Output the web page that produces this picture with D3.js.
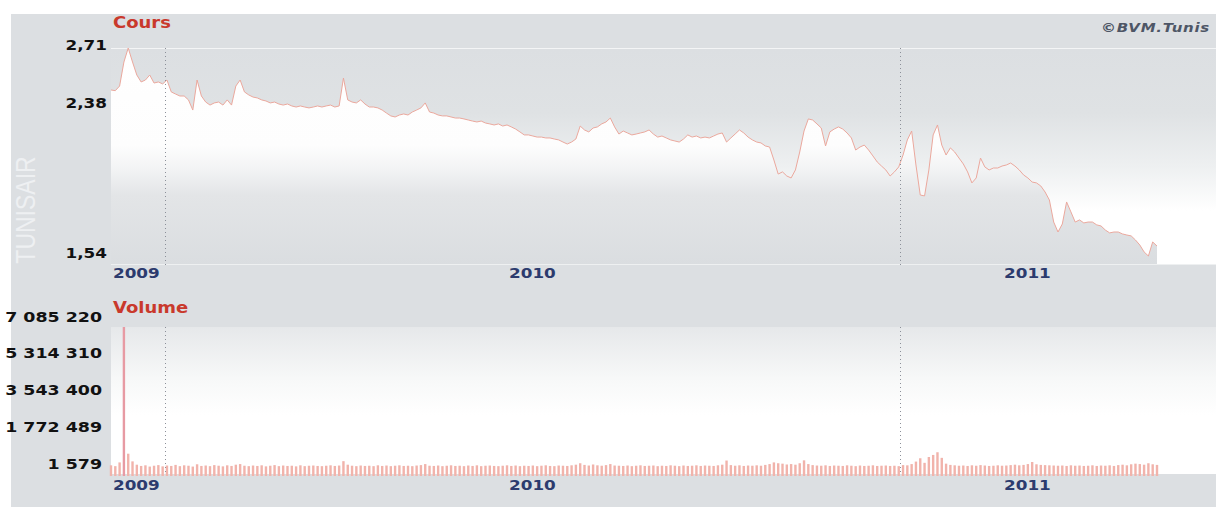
<!DOCTYPE html>
<html><head><meta charset="utf-8">
<script src="https://cdn.jsdelivr.net/npm/d3@7/dist/d3.min.js"></script>
<style>body{margin:0;background:#fff}svg{display:block}</style>
</head><body>
<svg id="c" width="1216" height="508"></svg>
<script>
// ---- DATA (weekly sessions) ----
const prices = [
2.474,2.470,2.496,2.631,2.710,2.631,2.558,2.519,2.530,2.558,
2.513,2.519,2.508,2.530,2.463,2.451,2.440,2.440,2.418,2.361,
2.530,2.440,2.406,2.389,2.401,2.406,2.389,2.418,2.389,2.496,
2.530,2.463,2.446,2.434,2.429,2.418,2.412,2.401,2.406,2.395,
2.389,2.395,2.384,2.378,2.384,2.378,2.373,2.378,2.384,2.378,
2.384,2.389,2.378,2.384,2.541,2.418,2.406,2.401,2.418,2.395,
2.378,2.378,2.373,2.361,2.344,2.328,2.322,2.333,2.339,2.333,
2.350,2.361,2.373,2.401,2.350,2.344,2.333,2.328,2.328,2.322,
2.316,2.316,2.311,2.305,2.299,2.294,2.299,2.288,2.283,2.277,
2.283,2.271,2.277,2.266,2.254,2.238,2.221,2.221,2.215,2.209,
2.209,2.204,2.204,2.198,2.193,2.181,2.170,2.181,2.198,2.271,
2.249,2.238,2.260,2.266,2.283,2.294,2.316,2.266,2.226,2.243,
2.232,2.221,2.226,2.232,2.238,2.249,2.226,2.209,2.215,2.204,
2.193,2.187,2.181,2.198,2.221,2.209,2.215,2.204,2.209,2.204,
2.215,2.226,2.232,2.181,2.204,2.226,2.249,2.232,2.209,2.193,
2.181,2.176,2.159,2.153,2.080,2.001,2.013,1.990,1.979,2.024,
2.125,2.243,2.311,2.305,2.283,2.260,2.159,2.238,2.254,2.266,
2.254,2.232,2.204,2.136,2.153,2.164,2.136,2.103,2.069,2.046,
2.024,1.990,2.013,2.041,2.108,2.193,2.243,2.052,1.883,1.878,
2.024,2.221,2.277,2.164,2.108,2.148,2.125,2.091,2.058,2.013,
1.951,1.979,2.091,2.041,2.024,2.035,2.035,2.046,2.052,2.063,
2.046,2.024,1.996,1.979,1.956,1.951,1.934,1.900,1.855,1.731,
1.675,1.720,1.844,1.788,1.731,1.743,1.726,1.731,1.731,1.715,
1.709,1.686,1.670,1.675,1.675,1.664,1.658,1.653,1.630,1.602,
1.563,1.540,1.619,1.596
];
const volumes = [
420000,380000,560000,7085220,980000,610000,450000,390000,420000,360000,
400000,430000,370000,410000,390000,440000,380000,420000,400000,360000,
470000,390000,410000,380000,430000,400000,370000,420000,390000,450000,
480000,400000,380000,410000,390000,420000,370000,400000,430000,380000,
410000,390000,400000,370000,420000,380000,400000,410000,390000,380000,
400000,420000,390000,410000,620000,450000,400000,380000,410000,390000,
400000,380000,420000,390000,410000,380000,400000,420000,390000,400000,
380000,410000,430000,480000,400000,390000,410000,380000,400000,420000,
390000,400000,380000,410000,390000,420000,380000,400000,410000,390000,
380000,400000,420000,390000,410000,380000,400000,390000,410000,380000,
400000,420000,390000,380000,410000,400000,390000,420000,450000,520000,
440000,410000,460000,420000,400000,430000,480000,410000,400000,390000,
410000,380000,400000,420000,390000,400000,410000,380000,400000,390000,
420000,400000,380000,410000,390000,400000,420000,390000,410000,400000,
390000,420000,450000,650000,430000,400000,420000,390000,410000,400000,
420000,400000,440000,480000,560000,520000,500000,460000,480000,450000,
520000,660000,480000,430000,410000,400000,420000,390000,410000,400000,
390000,420000,400000,380000,410000,390000,400000,420000,390000,400000,
410000,390000,400000,380000,430000,420000,480000,600000,760000,540000,
820000,920000,1050000,780000,500000,440000,420000,400000,410000,390000,
420000,400000,430000,410000,390000,400000,420000,400000,410000,430000,
450000,420000,440000,480000,580000,470000,440000,430000,420000,410000,
400000,410000,390000,420000,400000,410000,390000,400000,420000,390000,
410000,400000,420000,390000,430000,450000,420000,470000,500000,480000,
450000,520000,470000,440000
];
const priceTicks = [1.54, 2.38, 2.71];
const volumeTicks = [1579, 1772489, 3543400, 5314310, 7085220];
const yearLabels = ["2009", "2010", "2011"];
const yearStartSession = [0, 92, 207];
const dividerSessions = [12.5, 183.3];
const stockName = "TUNISAIR";

// ---- LAYOUT ----
const SX = 1.2; // horizontal stretch of the source picture's lettering
const L = 111, R = 1216;
const pTop = 48, pBot = 265, vTop = 327, vBot = 474;
const svg = d3.select("#c");
const defs = svg.append("defs");
function grad(id, stops, y1, y2){
  const g = defs.append("linearGradient").attr("id", id)
    .attr("gradientUnits","userSpaceOnUse").attr("x1",0).attr("x2",0).attr("y1",y1).attr("y2",y2);
  stops.forEach(s => g.append("stop").attr("offset", s[0]).attr("stop-color", s[1]));
}
grad("bgP", [[0,"#dcdfe2"],[0.3,"#dfe2e4"],[0.55,"#eef0f1"],[0.75,"#ffffff"],[1,"#ffffff"]], pTop, pBot);
grad("areaP", [[0,"#ffffff"],[0.45,"#fdfdfd"],[0.55,"#f3f4f5"],[0.68,"#e3e5e7"],[1,"#dadde0"]], pTop, pBot);
grad("bgV", [[0,"#e6e8ea"],[0.35,"#f7f8f8"],[0.6,"#ffffff"],[1,"#ffffff"]], vTop, vBot);

const locale = d3.formatLocale({decimal: ",", thousands: " ", grouping: [3], currency: ["", ""]});
const fPrice = locale.format(".2f");
const fVol = locale.format(",d");

const x = d3.scaleLinear().domain([0, prices.length - 1]).range([L, 1157]);
const yP = d3.scaleLinear().domain([1.54, 2.71]).range([256, pTop]);
const yV = d3.scaleLinear().domain([1579, 7085220]).range([vBot, vTop]);

// panel
svg.append("rect").attr("x",11).attr("y",14).attr("width",1216-11).attr("height",507-14).attr("fill","#dcdfe2");

// price plot
svg.append("rect").attr("x",L).attr("y",pTop).attr("width",R-L).attr("height",pBot-pTop).attr("fill","url(#bgP)");
const area = d3.area().x((d,i)=>x(i)).y0(pBot).y1(d=>yP(d));
svg.append("path").datum(prices).attr("d", area).attr("fill","url(#areaP)");
svg.append("line").attr("x1",L).attr("x2",R).attr("y1",pTop+0.5).attr("y2",pTop+0.5).attr("stroke","#f4f5f6").attr("stroke-width",1);
svg.append("line").attr("x1",L).attr("x2",R).attr("y1",pBot-0.5).attr("y2",pBot-0.5).attr("stroke","#eef0f1").attr("stroke-width",1);
const line = d3.line().x((d,i)=>x(i)).y(d=>yP(d));
svg.append("path").datum(prices).attr("d", line).attr("fill","none").attr("stroke","#eba89d").attr("stroke-width",1);

// volume plot
svg.append("rect").attr("x",L).attr("y",vTop).attr("width",R-L).attr("height",vBot-vTop).attr("fill","url(#bgV)");
svg.append("g").selectAll("rect").data(volumes).join("rect")
  .attr("x",(d,i)=>x(i)-1.2).attr("width",2.4)
  .attr("y",d=>yV(d)).attr("height",d=>vBot-yV(d)+2)
  .attr("fill",(d,i)=> d > 5000000 ? "#e79aa3" : "#f1b3ab");

// dotted dividers
dividerSessions.forEach(s => {
  [[pTop,pBot],[vTop,vBot]].forEach(([a,b]) => {
    svg.append("line").attr("x1",Math.round(x(s))+0.5).attr("x2",Math.round(x(s))+0.5)
      .attr("y1",a).attr("y2",b).attr("stroke","#8c9099").attr("stroke-width",1).attr("stroke-dasharray","1,3");
  });
});

// texts
function stext(tx, ty, str, attrs){
  const t = svg.append("text").attr("transform",`translate(${tx},${ty}) scale(${SX},1)`).text(str);
  Object.entries(attrs).forEach(([k,v]) => t.attr(k,v));
  return t;
}
const bold = {"font-family":"DejaVu Sans","font-weight":"bold"};
stext(L+2, 28, "Cours", {...bold, "font-size":15, fill:"#c9392c"});
stext(L+2, 313, "Volume", {...bold, "font-size":15, fill:"#c9392c"});
stext(1210, 32, "©BVM.Tunis", {...bold, "font-style":"italic", "font-size":12.5, fill:"#4e5666", "text-anchor":"end", "letter-spacing":0.6});

priceTicks.forEach(v => stext(107, yP(v)+1.5, fPrice(v), {...bold, "font-size":14, fill:"#111", "text-anchor":"end"}));
volumeTicks.forEach(v => stext(102, yV(v)-5.5, fVol(v), {...bold, "font-size":14.5, fill:"#111", "text-anchor":"end"}));

yearLabels.forEach((lab,i) => {
  stext(x(yearStartSession[i])+2, 278, lab, {...bold, "font-size":14, fill:"#2c3b6e"});
  stext(x(yearStartSession[i])+2, 490, lab, {...bold, "font-size":14, fill:"#2c3b6e"});
});

svg.append("text").attr("transform","translate(25,210) scale(1.22,1) rotate(-90)")
  .attr("text-anchor","middle").attr("dominant-baseline","central")
  .attr("font-family","Liberation Sans").attr("font-size",23).attr("fill","#eef0f2").text(stockName);
</script>
</body></html>
